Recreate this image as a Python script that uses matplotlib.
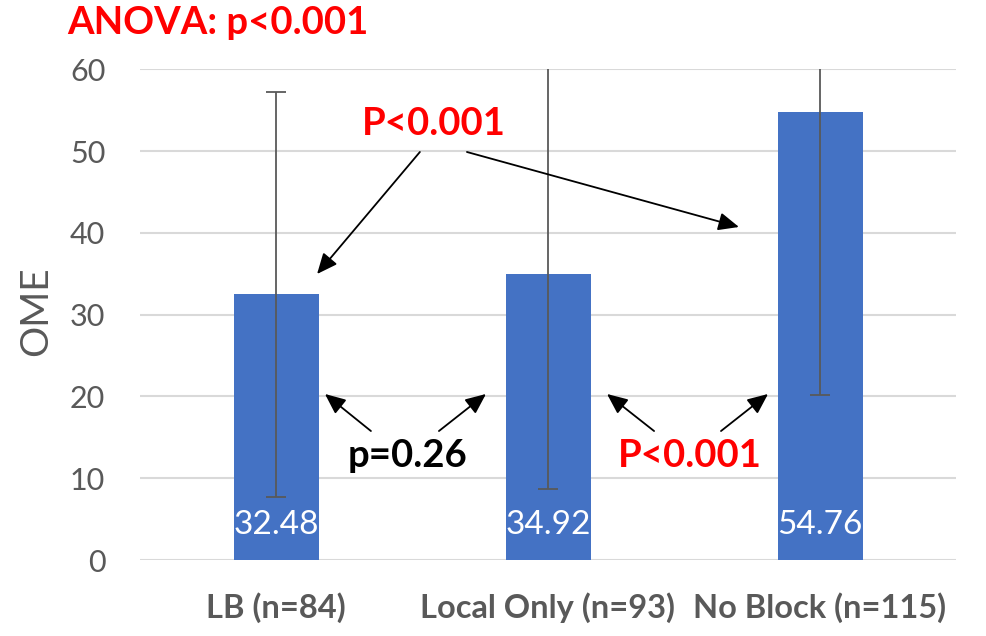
import matplotlib
matplotlib.use("Agg")
import matplotlib.pyplot as plt

categories = ["LB (n=84)", "Local Only (n=93)", "No Block (n=115)"]
means = [32.48, 34.92, 54.76]
errors = [24.8, 26.2, 34.6]
value_labels = ["32.48", "34.92", "54.76"]
yticks = [0, 10, 20, 30, 40, 50, 60]

FONT = ["Lato", "DejaVu Sans"]
plt.rcParams['font.family'] = FONT

W, H = 986, 636
fig = plt.figure(figsize=(W / 100, H / 100), dpi=100)
ax = fig.add_axes([140 / W, (H - 560) / H, 816 / W, 490.7 / H])

BAR = "#4472C4"
GRAY = "#595959"
RED = "#FF0000"

x = list(range(len(categories)))
ax.bar(x, means, width=0.3125, color=BAR, zorder=2)
ax.errorbar(x, means, yerr=errors, fmt='none', ecolor=GRAY, elinewidth=1.3,
            capsize=7, capthick=1.3, zorder=3)

for xi, lab in zip(x, value_labels):
    ax.text(xi, 3.18, lab, ha='center', va='baseline', color='white',
            fontsize=24, zorder=4)

ax.set_xlim(-0.5, 2.5)
ax.set_ylim(0, 60)
ax.set_yticks(yticks)
ax.set_yticklabels([str(t) for t in yticks], fontsize=22, color=GRAY)
ax.set_xticks(x)
ax.set_xticklabels(categories, fontsize=23.5, fontweight='bold', color=GRAY)
ax.tick_params(axis='y', length=0, pad=25)
ax.tick_params(axis='x', length=0, pad=23)
for s in ax.spines.values():
    s.set_visible(False)
ax.yaxis.grid(True, color="#D9D9D9", lw=1.5, zorder=0)
ax.set_axisbelow(True)

fig.text(36 / W, 1 - 311 / H, "OME", rotation=90, ha='center', va='center',
         fontsize=28, color=GRAY)
fig.text(67 / W, 1 - 34.3 / H, "ANOVA: p<0.001", ha='left', va='baseline',
         fontsize=27.5, fontweight='bold', color=RED)

ax.text(0.581, 51.97, "P<0.001", ha='center', va='baseline', fontsize=27.5,
        fontweight='bold', color=RED)
ax.text(0.482, 11.37, "p=0.26", ha='center', va='baseline', fontsize=27.5,
        fontweight='bold', color='black')
ax.text(1.522, 11.37, "P<0.001", ha='center', va='baseline', fontsize=27.5,
        fontweight='bold', color=RED)

arrow_kw = dict(arrowstyle='-|>,head_length=0.5,head_width=0.22', color='black',
                lw=1.3, mutation_scale=25, shrinkA=0, shrinkB=0)
arrows = [
    ((0.529, 49.89), (0.151, 34.97)),
    ((0.702, 49.89), (1.702, 40.72)),
    ((0.349, 15.77), (0.180, 20.30)),
    ((0.599, 15.77), (0.772, 20.30)),
    ((1.390, 15.77), (1.217, 20.30)),
    ((1.636, 15.77), (1.809, 20.30)),
]
for start, end in arrows:
    ax.annotate("", xy=end, xytext=start, arrowprops=arrow_kw, zorder=5)

fig.savefig("out.png", dpi=100)
